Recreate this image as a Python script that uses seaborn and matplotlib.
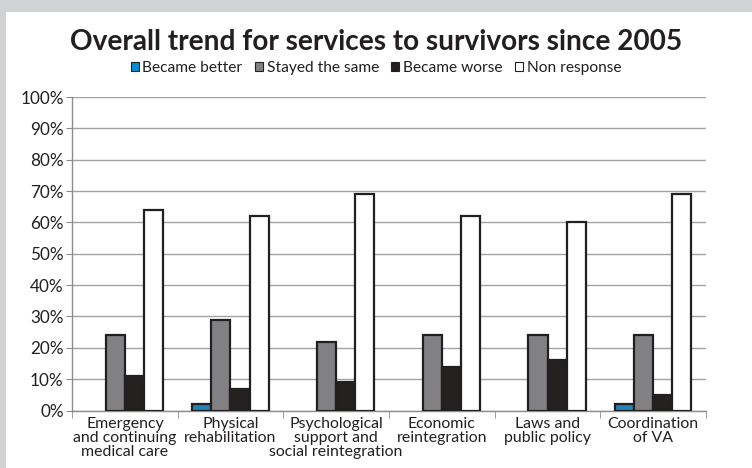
import matplotlib
matplotlib.use("Agg")
import matplotlib.pyplot as plt
import matplotlib.patches as mpatches
from matplotlib.ticker import FixedLocator, PercentFormatter
import seaborn as sns
import pandas as pd

categories = [
    "Emergency\nand continuing\nmedical care",
    "Physical\nrehabilitation",
    "Psychological\nsupport and\nsocial reintegration",
    "Economic\nreintegration",
    "Laws and\npublic policy",
    "Coordination\nof VA",
]
series = ["Became better", "Stayed the same", "Became worse", "Non response"]
became_better = [0, 2, 0, 0, 0, 2]
stayed_same = [24, 29, 22, 24, 24, 24]
became_worse = [11, 7, 9, 14, 16, 5]
non_response = [64, 62, 69, 62, 60, 69]
colors = ["#0a8bcd", "#808184", "#231f20", "#ffffff"]

rows = []
for values, name in zip([became_better, stayed_same, became_worse, non_response], series):
    for cat, v in zip(categories, values):
        rows.append({"category": cat, "series": name, "value": v})
df = pd.DataFrame(rows)

sns.set_style("white")
plt.rcParams["font.family"] = ["Lato", "DejaVu Sans"]

fig = plt.figure(figsize=(7.52, 4.68), dpi=100, facecolor="#d1d2d4")
# white panel inside the grey frame
fig.patches.append(mpatches.Rectangle((6 / 752, 0), 1, 1 - 12 / 468,
                                      transform=fig.transFigure,
                                      facecolor="white", edgecolor="none", zorder=0))
ax = fig.add_axes([72 / 752, 1 - 410.5 / 468, 634 / 752, 313.5 / 468])
ax.set_zorder(2)
ax.set_facecolor("none")

sns.barplot(data=df, x="category", y="value", hue="series", hue_order=series,
            order=categories, palette=colors, width=0.72, ax=ax,
            edgecolor="#231f20", linewidth=1.6, legend=False, zorder=3)
# empty bars leave no outline on the baseline
for bar in ax.patches:
    if bar.get_height() == 0:
        bar.set_linewidth(0)

ax.set_ylim(0, 100)
ax.set_xlim(-0.5, len(categories) - 0.5)
ax.yaxis.set_major_locator(FixedLocator(range(0, 101, 10)))
ax.yaxis.set_major_formatter(PercentFormatter(decimals=0))
ax.grid(axis="y", color="#a3a3a3", linewidth=1.0, zorder=0)
ax.set_axisbelow(True)
for s in ["top", "right"]:
    ax.spines[s].set_visible(False)
for s in ["left", "bottom"]:
    ax.spines[s].set_color("#8c8c8c")
    ax.spines[s].set_linewidth(1.0)
ax.set_xlabel("")
ax.set_ylabel("")
ax.tick_params(axis="y", length=4, color="#8c8c8c", labelsize=12.3, pad=2, direction="out", left=True)
ax.tick_params(axis="x", length=0, labelsize=11.4, pad=5)
ax.set_xticks(range(len(categories)))
ax.set_xticklabels(categories, linespacing=1.0)
ax.set_xticks([i - 0.5 for i in range(len(categories) + 1)], minor=True)
ax.tick_params(axis="x", which="minor", length=5, color="#8c8c8c", bottom=True)
for lab in ax.get_yticklabels() + ax.get_xticklabels():
    lab.set_color("#231f20")

fig.text(0.5, 1 - 42 / 468, "Overall trend for services to survivors since 2005",
         ha="center", va="center", fontsize=20.2, fontweight="bold", color="#231f20")

handles = [mpatches.Patch(facecolor=c, edgecolor="#231f20", linewidth=0.8) for c in colors]
fig.legend(handles, series, loc="center", bbox_to_anchor=(0.5, 1 - 68 / 468),
           ncol=4, frameon=False, fontsize=11.2, handlelength=0.5, handleheight=0.5,
           handletextpad=0.25, columnspacing=0.8, labelcolor="#231f20")

fig.savefig("out.png", dpi=100, facecolor=fig.get_facecolor())
